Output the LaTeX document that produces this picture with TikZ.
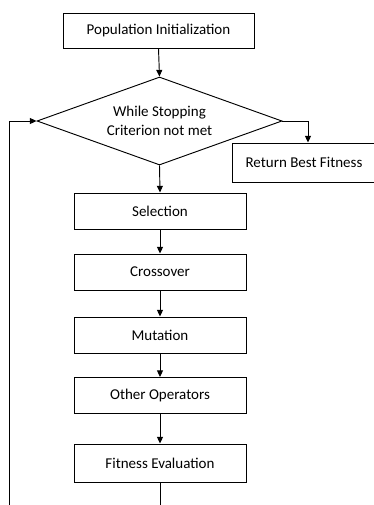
\documentclass[tikz,border=0pt]{standalone}
\usepackage{fontspec}
\setmainfont{Carlito}
\usepackage{tikz}
\usetikzlibrary{shapes.geometric,arrows.meta}
\tikzset{
  stage/.style={rectangle, draw, line width=0.8pt, minimum height=1.08cm,
                minimum width=5.16cm, align=center, inner sep=2pt},
  loopdec/.style={diamond, draw, line width=0.8pt, aspect=2.78, align=center,
                  minimum width=7.35cm, minimum height=2.64cm, inner sep=1pt},
  arr/.style={-{Triangle[length=2mm,width=1.8mm]}, line width=0.8pt}
}

\begin{document}
\begin{tikzpicture}[x=0.03cm, y=-0.03cm,
  every node/.style={font=\fontsize{12.8}{16}\selectfont}]
  \useasboundingbox (0,0) rectangle (374,505);
  \clip (0,0) rectangle (374,505);
  \node[stage, minimum width=5.73cm, minimum height=1.05cm] (init) at (158.5,30.5) {Population Initialization};
  \node[loopdec] (cond) at (159.5,121) {While Stopping\\Criterion not met};
  \node[stage, minimum width=4.32cm, minimum height=1.17cm] (ret) at (304,162.5) {Return Best Fitness};
  \node[stage] (sel) at (160,211) {Selection};
  \node[stage] (cross) at (160,272) {Crossover};
  \node[stage] (mut) at (160,335) {Mutation};
  \node[stage] (other) at (160,395.5) {Other Operators};
  \node[stage, minimum height=1.14cm] (fit) at (160,463) {Fitness Evaluation};
  \coordinate (back) at (9.5,540);
  \draw[arr] (init.south) -- (cond.north);
  \draw[arr] (cond.east) -| ([xshift=1.2mm]ret.north);
  \draw[arr] (cond.south) -- (sel.north);
  \draw[arr] (sel) -- (cross);
  \draw[arr] (cross) -- (mut);
  \draw[arr] (mut) -- (other);
  \draw[arr] (other) -- (fit);
  % loop back to the test
  \draw[arr] (fit.south) |- (back) |- (cond.west);
\end{tikzpicture}
\end{document}
